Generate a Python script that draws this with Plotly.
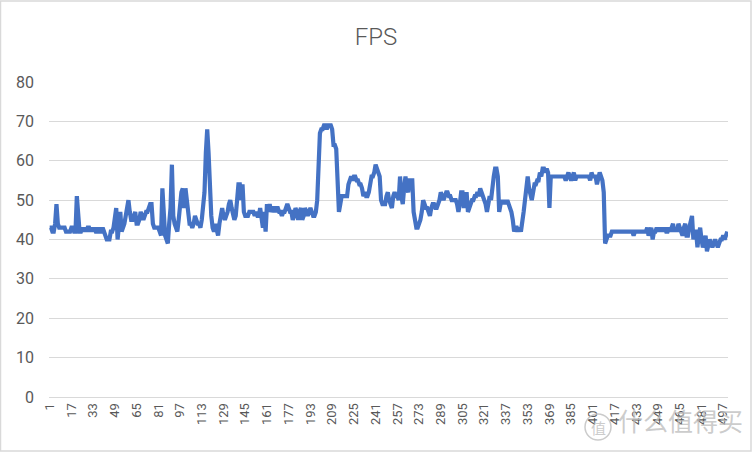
import plotly.graph_objects as go

# FPS log, one sample per row (1..500)
fps_001_100 = [43, 43, 42, 42, 44, 49, 44, 43, 43, 43, 43, 43, 42, 42, 42, 42, 43, 43, 42, 42,
               51, 45, 42, 42, 43, 42, 43, 42, 43, 43, 42, 43, 42, 43, 42, 42, 43, 42, 42, 43,
               42, 41, 40, 40, 40, 42, 42, 43, 46, 48, 40, 44, 47, 42, 43, 44, 46, 48, 50, 47,
               45, 45, 46, 47, 44, 44, 45, 47, 46, 45, 46, 47, 47, 48, 49, 49, 44, 43, 43, 43,
               43, 42, 41, 53, 47, 41, 40, 39, 44, 48, 59, 46, 44, 43, 42, 45, 50, 52, 53, 48]
fps_101_200 = [53, 49, 46, 44, 44, 43, 44, 46, 45, 44, 44, 43, 45, 49, 52, 62, 68, 62, 52, 46,
               43, 42, 44, 42, 41, 44, 46, 48, 46, 45, 46, 47, 49, 50, 48, 46, 45, 46, 50, 54,
               54, 50, 54, 47, 46, 46, 46, 47, 47, 47, 47, 46, 47, 46, 46, 48, 45, 43, 47, 42,
               49, 47, 49, 47, 48, 48, 47, 48, 48, 47, 47, 46, 47, 47, 48, 49, 48, 47, 47, 45,
               46, 48, 47, 45, 47, 48, 45, 46, 48, 47, 46, 47, 48, 47, 46, 46, 47, 50, 58, 67]
fps_201_300 = [68, 68, 69, 69, 68, 69, 69, 69, 68, 64, 64, 63, 55, 47, 49, 51, 51, 51, 51, 51,
               54, 55, 56, 55, 56, 56, 55, 55, 54, 54, 53, 51, 52, 51, 51, 52, 55, 56, 56, 57,
               59, 58, 57, 56, 50, 49, 49, 49, 51, 52, 50, 49, 48, 51, 52, 51, 51, 50, 56, 51,
               49, 53, 56, 53, 52, 55, 55, 55, 47, 44, 43, 43, 44, 45, 47, 50, 49, 48, 48, 47,
               46, 48, 49, 49, 48, 48, 49, 50, 52, 51, 50, 51, 52, 52, 51, 51, 50, 50, 50, 50]
fps_301_400 = [49, 47, 49, 52, 52, 48, 50, 52, 47, 48, 49, 50, 50, 51, 51, 52, 51, 53, 52, 51,
               50, 49, 47, 49, 51, 50, 54, 56, 58, 58, 56, 47, 49, 50, 49, 50, 49, 50, 49, 48,
               47, 45, 42, 43, 43, 42, 43, 42, 44, 47, 50, 53, 56, 53, 51, 50, 52, 54, 54, 55,
               55, 57, 56, 58, 58, 57, 58, 57, 48, 56, 56, 56, 56, 56, 56, 56, 56, 56, 56, 56,
               55, 56, 57, 56, 55, 56, 57, 55, 56, 56, 56, 56, 56, 56, 56, 56, 56, 56, 55, 57]
fps_401_500 = [56, 56, 56, 54, 56, 57, 56, 55, 52, 39, 40, 41, 41, 41, 42, 42, 42, 42, 42, 42,
               42, 42, 42, 42, 42, 42, 42, 42, 42, 42, 41, 42, 42, 42, 42, 42, 42, 42, 42, 42,
               43, 41, 42, 43, 40, 42, 42, 43, 42, 43, 42, 43, 42, 43, 42, 42, 43, 42, 43, 44,
               42, 43, 42, 44, 43, 42, 41, 43, 44, 41, 41, 43, 45, 46, 40, 42, 42, 38, 41, 43,
               40, 38, 39, 41, 37, 39, 40, 39, 38, 39, 40, 39, 38, 39, 40, 40, 41, 40, 41, 42]

fps = fps_001_100 + fps_101_200 + fps_201_300 + fps_301_400 + fps_401_500
samples = list(range(1, len(fps) + 1))
tick_labels = list(range(1, len(fps) + 1, 16))

grey = "#595959"
font = "Roboto"

fig = go.Figure()
fig.add_trace(go.Scatter(x=samples, y=fps, mode="lines",
                         line=dict(color="#4472C4", width=4.2), showlegend=False))

fig.update_layout(
    width=752, height=452,
    margin=dict(l=49, r=24, t=82, b=55),
    paper_bgcolor="white", plot_bgcolor="white",
    title=dict(text="FPS", x=0.5, xanchor="center", y=0.918, yanchor="middle",
               font=dict(family=font, size=24, color=grey, weight=300)),
    font=dict(family=font, color=grey),
)
fig.update_xaxes(range=[0.5, len(fps) + 0.5], tickmode="array", tickvals=tick_labels,
                 ticktext=[str(t) for t in tick_labels], tickangle=-90,
                 tickfont=dict(size=13, color=grey), showgrid=False, showline=True,
                 linecolor="#D9D9D9", linewidth=1, ticks="", zeroline=False)
fig.update_yaxes(range=[0, 80], dtick=10, tickfont=dict(size=16, color=grey),
                 gridcolor="#D9D9D9", gridwidth=1, zeroline=False, showline=False,
                 ticklabelstandoff=14)

# chart border
fig.add_shape(type="rect", xref="paper", yref="paper",
              x0=-48.5 / 679, x1=1 + 23 / 679, y0=-54 / 315, y1=1 + 81 / 315,
              line=dict(color="#D9D9D9", width=1.5), fillcolor="rgba(0,0,0,0)")

# watermark
wm = "rgba(190,190,190,0.8)"
fig.add_shape(type="circle", xref="paper", yref="paper",
              x0=(585 - 49) / 679, x1=(611 - 49) / 679,
              y0=(397 - 440) / 315, y1=(397 - 414) / 315,
              line=dict(color=wm, width=1.5))
fig.add_annotation(text="值", xref="paper", yref="paper", showarrow=False,
                   x=(598 - 49) / 679, y=(397 - 427) / 315,
                   xanchor="center", yanchor="middle",
                   font=dict(family="Noto Sans CJK SC", size=15, color=wm))
fig.add_annotation(text="什么值得买", xref="paper", yref="paper", showarrow=False,
                   x=(616 - 49) / 679, y=(397 - 420) / 315,
                   xanchor="left", yanchor="middle",
                   font=dict(family="Noto Sans CJK SC", size=25, color=wm))

fig.write_html("out.html", config={"displayModeBar": False},
               post_script="document.body.style.margin='0';")
